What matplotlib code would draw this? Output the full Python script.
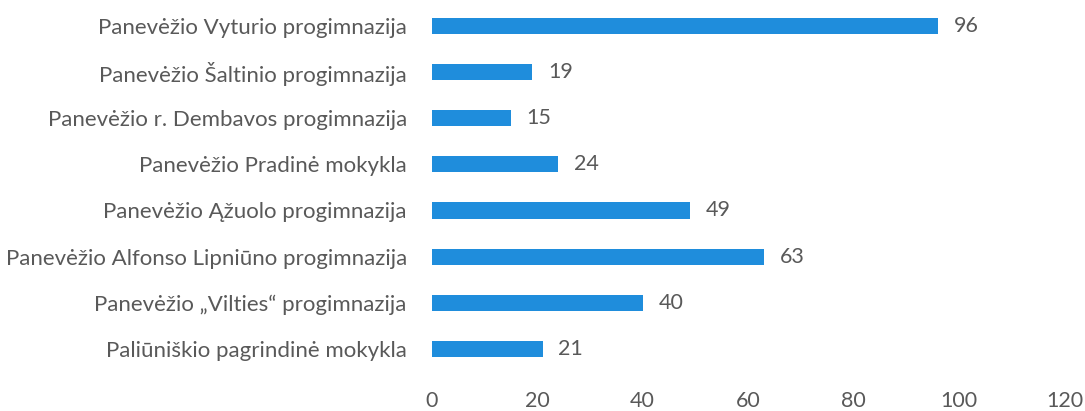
import matplotlib
matplotlib.use('Agg')
import matplotlib.pyplot as plt

schools = ['Panevėžio Vyturio progimnazija',
           'Panevėžio Šaltinio progimnazija',
           'Panevėžio r. Dembavos progimnazija',
           'Panevėžio Pradinė mokykla',
           'Panevėžio Ąžuolo progimnazija',
           'Panevėžio Alfonso Lipniūno progimnazija',
           'Panevėžio „Vilties“ progimnazija',
           'Paliūniškio pagrindinė mokykla']
counts = [96, 19, 15, 24, 49, 63, 40, 21]
xticks = [0, 20, 40, 60, 80, 100, 120]

plt.rcParams['font.family'] = ['Lato', 'DejaVu Sans']
text_col = '#595959'

fig = plt.figure(figsize=(10.85, 4.11), dpi=100)
ax = fig.add_axes([0.398, 0.095, 0.583, 0.898])

pos = list(range(len(schools)))
ax.barh(pos, counts, height=0.35, color='#1f8ddc')
for p, v in zip(pos, counts):
    ax.text(v + 3, p, str(v), va='center', ha='left', fontsize=15.5, color=text_col)

ax.set_yticks(pos)
ax.set_yticklabels(schools)
ax.set_ylim(len(schools) - 0.5, -0.5)
ax.set_xlim(0, 120)
ax.set_xticks(xticks)

for s in ax.spines.values():
    s.set_visible(False)
ax.tick_params(axis='y', length=0, pad=18, labelsize=16, labelcolor=text_col)
ax.tick_params(axis='x', length=0, pad=14, labelsize=15.5, labelcolor=text_col)

fig.savefig('out.png', dpi=100)
